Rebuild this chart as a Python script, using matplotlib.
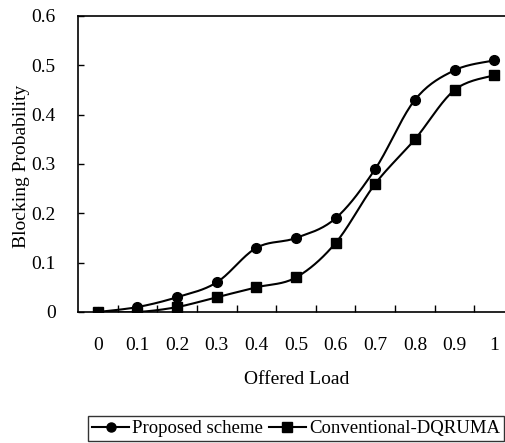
import numpy as np
import matplotlib.pyplot as plt
from matplotlib.lines import Line2D

plt.rcParams['font.family'] = ['Liberation Serif', 'DejaVu Serif']

load = ['0', '0.1', '0.2', '0.3', '0.4', '0.5', '0.6', '0.7', '0.8', '0.9', '1']
proposed = [0, 0.01, 0.03, 0.06, 0.13, 0.15, 0.19, 0.29, 0.43, 0.49, 0.51]
conventional = [0, 0, 0.01, 0.03, 0.05, 0.07, 0.14, 0.26, 0.35, 0.45, 0.48]


def smooth(x, y, n=20):
    # Catmull-Rom style bezier, like Excel's smoothed line
    x = np.asarray(x, float)
    y = np.asarray(y, float)
    px = np.concatenate([[x[0]], x, [x[-1]]])
    py = np.concatenate([[y[0]], y, [y[-1]]])
    xs, ys = [], []
    t = np.linspace(0, 1, n)
    for i in range(1, len(px) - 2):
        p0 = np.array([px[i], py[i]])
        p3 = np.array([px[i + 1], py[i + 1]])
        p1 = p0 + (p3 - np.array([px[i - 1], py[i - 1]])) / 6
        p2 = p3 - (np.array([px[i + 2], py[i + 2]]) - p0) / 6
        b = ((1 - t) ** 3)[:, None] * p0 + (3 * (1 - t) ** 2 * t)[:, None] * p1 \
            + (3 * (1 - t) * t ** 2)[:, None] * p2 + (t ** 3)[:, None] * p3
        xs.extend(b[:, 0])
        ys.extend(b[:, 1])
    return np.array(xs), np.array(ys)


fig = plt.figure(figsize=(5.06, 4.43), dpi=100)
ax = fig.add_axes([78 / 506, (443 - 312) / 443, (514 - 78) / 506, (312 - 16) / 443])

xi = np.arange(len(load))
for vals, mk, ms in [(proposed, 'o', 7), (conventional, 's', 7)]:
    sx, sy = smooth(xi, vals)
    ax.plot(sx, sy, color='black', lw=1.5)
    ax.plot(xi, vals, mk, color='black', ms=ms)

handles = [Line2D([], [], color='black', lw=1.5, marker='o', ms=6.5),
           Line2D([], [], color='black', lw=1.5, marker='s', ms=6.5)]
leg = fig.legend(handles, ['Proposed scheme', 'Conventional-DQRUMA'], loc='lower center',
                 bbox_to_anchor=(296 / 506, 2 / 443), ncol=2, frameon=True, fancybox=False,
                 edgecolor='black', fontsize=13.5, handlelength=2.0, handletextpad=0.15,
                 columnspacing=0.3, borderpad=0.2, borderaxespad=0)
leg.get_frame().set_linewidth(1.0)

ax.set_xlim(-0.5, 10.5)
ax.set_ylim(0, 0.6)
ax.set_yticks([0, 0.1, 0.2, 0.3, 0.4, 0.5, 0.6])
ax.set_yticklabels(['0', '0.1', '0.2', '0.3', '0.4', '0.5', '0.6'])
ax.tick_params(axis='y', direction='in', length=4, width=1, pad=16, labelsize=14)
ax.set_xticks(xi)
ax.set_xticklabels(load)
ax.tick_params(axis='x', length=0, pad=18, labelsize=14)
ax.set_xticks(np.arange(0.5, 10.5, 1), minor=True)
ax.tick_params(axis='x', which='minor', direction='in', length=5, width=1)
for s in ax.spines.values():
    s.set_linewidth(1.2)

ax.set_xlabel('Offered Load', fontsize=14)
ax.set_ylabel('Blocking Probability', fontsize=14)
ax.xaxis.set_label_coords((297 - 78) / (514 - 78), -(380 - 312) / (312 - 16))
ax.yaxis.set_label_coords(-(78 - 22) / (514 - 78), (312 - 166) / (312 - 16))
ax.xaxis.label.set_va('center')
ax.yaxis.label.set_va('center')

fig.savefig('out.png', dpi=100)
